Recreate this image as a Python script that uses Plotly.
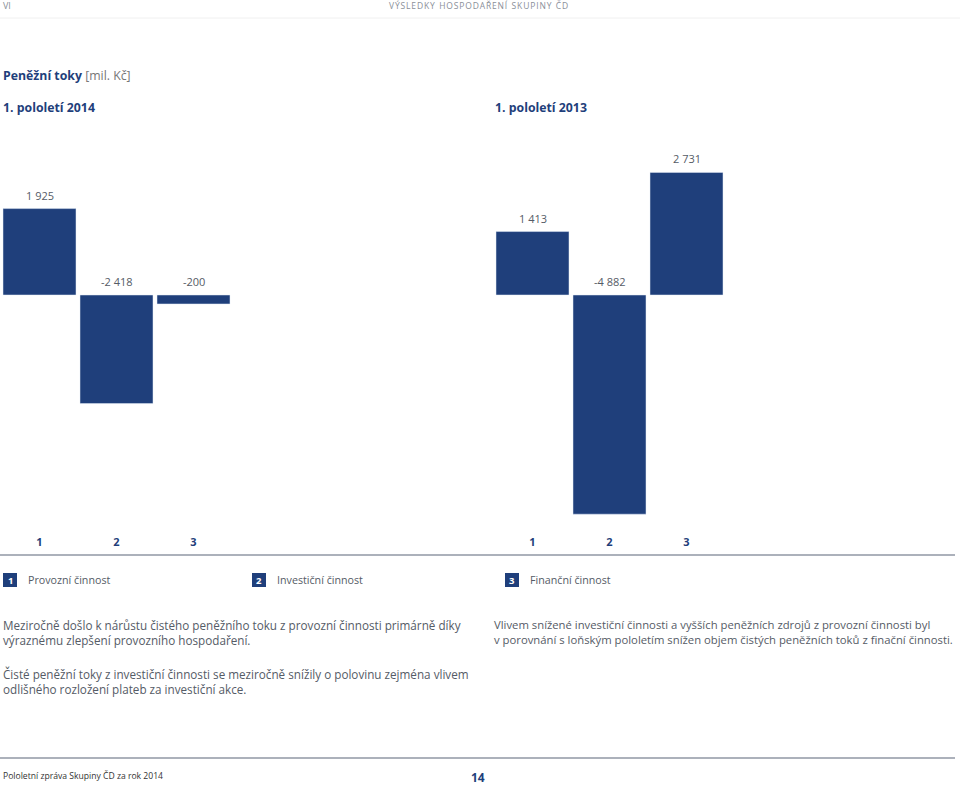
import plotly.graph_objects as go

W, H = 960, 786
NAVY = "#1f3f7b"
GREY = "#555b66"
FONT = "Open Sans, sans-serif"

categories = ["1", "2", "3"]
values_2014 = [1925, -2418, -200]
values_2013 = [1413, -4882, 2731]
legend_labels = ["Provozní činnost", "Investiční činnost", "Finanční činnost"]


def px(x):
    return x / W


def py(y):
    return 1 - y / H


def fmt(v):
    return f"{v:,}".replace(",", " ")


fig = go.Figure()
fig.add_trace(go.Bar(x=categories, y=values_2014, marker_color=NAVY,
                     xaxis="x", yaxis="y", hoverinfo="skip"))
fig.add_trace(go.Bar(x=categories, y=values_2013, marker_color=NAVY,
                     xaxis="x2", yaxis="y", hoverinfo="skip"))

annotations = []
# value labels above the bar (positive) or above zero line (negative)
for xref, vals in (("x", values_2014), ("x2", values_2013)):
    for i, v in enumerate(vals):
        annotations.append(dict(x=i, y=max(v, 0), xref=xref, yref="y",
                                text=fmt(v), showarrow=False, yanchor="bottom",
                                yshift=4, font=dict(family=FONT, size=11, color=GREY)))


def note(x, y, text, size=12, color=GREY, xanchor="left", **kw):
    annotations.append(dict(x=px(x), y=py(y), xref="paper", yref="paper", text=text,
                            showarrow=False, xanchor=xanchor, yanchor="middle",
                            font=dict(family=FONT, size=size, color=color), **kw))


note(1, 5, "VI", size=9, color="#8a8f99")
note(478, 5, "V\u200aÝ\u200aS\u200aL\u200aE\u200aD\u200aK\u200aY  H\u200aO\u200aS\u200aP\u200aO\u200aD\u200aA\u200aŘ\u200aE\u200aN\u200aÍ  "
     "S\u200aK\u200aU\u200aP\u200aI\u200aN\u200aY  Č\u200aD", size=8.5, color="#8a8f99", xanchor="center")
note(1, 75, "<b>Peněžní toky</b> <span style='color:#777'>[mil. Kč]</span>", size=12.3, color=NAVY)
note(1, 107, "<b>1. pololetí 2014</b>", size=12.3, color=NAVY)
note(493, 107, "<b>1. pololetí 2013</b>", size=12.3, color=NAVY)

legend_x = [3, 252, 505]
shapes = []
for i, (lx, lab) in enumerate(zip(legend_x, legend_labels)):
    shapes.append(dict(type="rect", xref="paper", yref="paper", x0=px(lx), x1=px(lx + 14),
                       y0=py(587), y1=py(573), fillcolor=NAVY, line_width=0))
    note(lx + 7, 580, f"<b>{categories[i]}</b>", size=9.5, color="white", xanchor="center")
    note(lx + 23, 580, lab, size=10.7)

PARA = 11.7
note(1, 632, "Meziročně došlo k nárůstu čistého peněžního toku z provozní činnosti primárně díky"
     "<br>výraznému zlepšení provozního hospodaření.", size=PARA, align="left")
note(1, 681, "Čisté peněžní toky z investiční činnosti se meziročně snížily o polovinu zejména vlivem"
     "<br>odlišného rozložení plateb za investiční akce.", size=PARA, align="left")
note(492, 632, "Vlivem snížené investiční činnosti a vyšších peněžních zdrojů z provozní činnosti byl"
     "<br>v porovnání s loňským pololetím snížen objem čistých peněžních toků z finační činnosti.",
     size=11.3, align="left")

note(1, 776, "Pololetní zpráva Skupiny ČD za rok 2014", size=8.6, color="#333")
note(478, 777, "<b>14</b>", size=12, color=NAVY, xanchor="center")

shapes.append(dict(type="line", xref="paper", yref="paper", x0=0, x1=px(955),
                   y0=py(555), y1=py(555), line=dict(color="#5a6478", width=1.2)))
shapes.append(dict(type="line", xref="paper", yref="paper", x0=0, x1=px(955),
                   y0=py(758), y1=py(758), line=dict(color="#5a6478", width=1.2)))
shapes.append(dict(type="line", xref="paper", yref="paper", x0=0, x1=1,
                   y0=py(18), y1=py(18), line=dict(color="#f0f0f0", width=1)))

top_px, bot_px, zero_px, scale = 150, 532, 295, 0.0449
y_range = [-(bot_px - zero_px) / scale, (zero_px - top_px) / scale]

axis_common = dict(type="category", range=[-0.5, 2.5], showgrid=False, zeroline=False,
                   showline=False, ticks="", fixedrange=True, ticklabelstandoff=2,
                   tickfont=dict(family=FONT, size=11, color=NAVY),
                   tickprefix="<b>", ticksuffix="</b>")

fig.update_layout(
    width=W, height=H, margin=dict(l=0, r=0, t=0, b=0),
    paper_bgcolor="white", plot_bgcolor="white", showlegend=False,
    bargap=4 / 77,
    xaxis=dict(domain=[px(1), px(232)], anchor="y", **axis_common),
    xaxis2=dict(domain=[px(494), px(725)], anchor="y", **axis_common),
    yaxis=dict(domain=[py(bot_px), py(top_px)], range=y_range, visible=False,
               fixedrange=True),
    annotations=annotations, shapes=shapes,
)

fig.write_html("out.html", config={"displayModeBar": False},
               post_script="document.body.style.margin='0';")
